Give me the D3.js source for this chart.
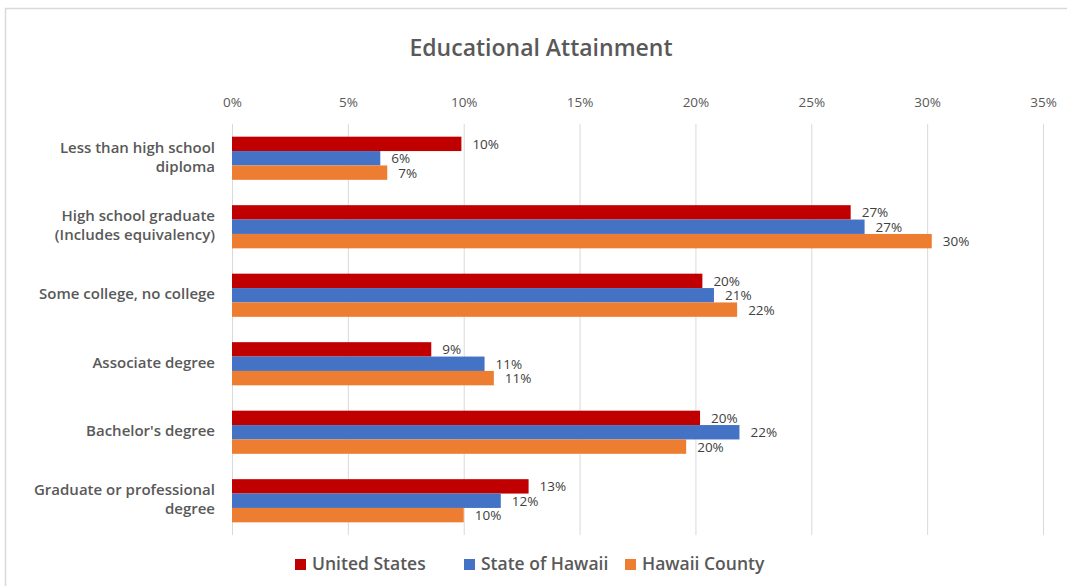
<!DOCTYPE html>
<html>
<head>
<meta charset="utf-8">
<script src="https://cdn.jsdelivr.net/npm/d3@7"></script>
<style>
  html, body { margin: 0; padding: 0; background: #fff; }
  svg { display: block; font-family: "Open Sans", "Noto Sans", sans-serif; }
</style>
</head>
<body>
<svg id="chart" width="1067" height="586"></svg>
<script>
const categories = [
  "Less than high school|diploma",
  "High school graduate|(Includes equivalency)",
  "Some college, no college",
  "Associate degree",
  "Bachelor's degree",
  "Graduate or professional|degree"
];
const seriesNames = ["United States", "State of Hawaii", "Hawaii County"];
const unitedStates = [9.9, 26.7, 20.3, 8.6, 20.2, 12.8];
const stateOfHawaii = [6.4, 27.3, 20.8, 10.9, 21.9, 11.6];
const hawaiiCounty = [6.7, 30.2, 21.8, 11.3, 19.6, 10.0];
const tickValues = [0, 5, 10, 15, 20, 25, 30, 35];
const colors = ["#C00000", "#4472C4", "#ED7D31"];

const seriesValues = [unitedStates, stateOfHawaii, hawaiiCounty];

const svg = d3.select("#chart");
const W = 1067, H = 586;

// chart border
svg.append("rect").attr("x", 5.5).attr("y", 8.5).attr("width", W + 10).attr("height", H + 10)
  .attr("fill", "none").attr("stroke", "#d9d9d9").attr("stroke-width", 1.5);

const margin = { left: 232, right: 24, top: 124, bottom: 51 };
const x = d3.scaleLinear().domain([0, 35]).range([margin.left, 1043]);
const y = d3.scaleBand().domain(categories).range([margin.top, H - margin.bottom]).paddingInner(0.37).paddingOuter(0.185);
const ySub = d3.scaleBand().domain(seriesNames).range([0, y.bandwidth()]);

// title
svg.append("text").attr("x", 541).attr("y", 56).attr("text-anchor", "middle")
  .attr("font-size", 23).attr("font-weight", 600).attr("fill", "#595959")
  .text("Educational Attainment");

// gridlines
svg.append("g").selectAll("line").data(tickValues).join("line")
  .attr("x1", d => x(d) + 0.5).attr("x2", d => x(d) + 0.5)
  .attr("y1", margin.top).attr("y2", H - margin.bottom)
  .attr("stroke", "#d9d9d9").attr("stroke-width", 1);

// top axis
const axis = d3.axisTop(x).tickValues(tickValues).tickFormat(d => d + "%").tickSize(0).tickPadding(0);
const ag = svg.append("g").attr("transform", `translate(0,${107})`).call(axis);
ag.select(".domain").remove();
ag.selectAll("text").attr("font-size", 13.5).attr("fill", "#595959").attr("font-family", "Open Sans, sans-serif");

// bars
const groups = svg.append("g").selectAll("g").data(categories).join("g")
  .attr("transform", d => `translate(0,${y(d)})`);

groups.each(function(cat, ci) {
  const g = d3.select(this);
  seriesNames.forEach((s, si) => {
    const v = seriesValues[si][ci];
    g.append("rect")
      .attr("x", x(0)).attr("y", ySub(s))
      .attr("width", x(v) - x(0)).attr("height", ySub.bandwidth())
      .attr("fill", colors[si]);
    g.append("text")
      .attr("x", x(v) + 11).attr("y", ySub(s) + ySub.bandwidth() / 2 + 1.5)
      .attr("dominant-baseline", "middle")
      .attr("font-size", 13.5).attr("fill", "#404040")
      .text(Math.round(v) + "%");
  });
});

// category labels
svg.append("g").selectAll("text").data(categories).join("text")
  .attr("text-anchor", "end").attr("font-size", 15).attr("font-weight", 600).attr("fill", "#595959")
  .each(function(d) {
    const lines = d.split("|");
    const cy = y(d) + y.bandwidth() / 2;
    const lh = 19;
    const t = d3.select(this);
    lines.forEach((ln, i) => {
      t.append("tspan").attr("x", 215)
        .attr("y", cy + (i - (lines.length - 1) / 2) * lh)
        .attr("dominant-baseline", "middle")
        .text(ln);
    });
  });

// legend
const legendX = [295, 464, 625];
const lg = svg.append("g").selectAll("g").data(seriesNames).join("g")
  .attr("transform", (d, i) => `translate(${legendX[i]},${565})`);
lg.append("rect").attr("x", 0).attr("y", -6).attr("width", 11).attr("height", 11)
  .attr("fill", (d, i) => colors[i]);
lg.append("text").attr("x", 17).attr("y", 0).attr("dominant-baseline", "middle")
  .attr("font-size", 17.5).attr("font-weight", 600).attr("fill", "#595959").text(d => d);
</script>
</body>
</html>
